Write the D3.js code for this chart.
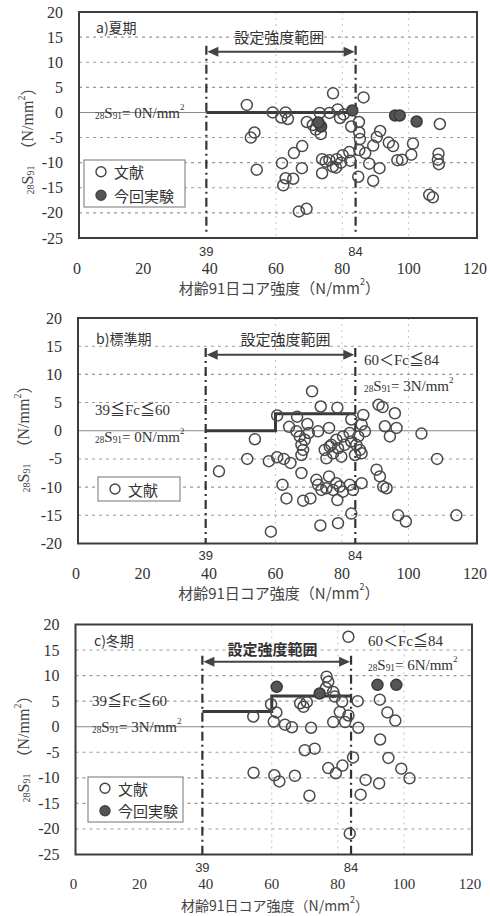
<!DOCTYPE html>
<html><head><meta charset="utf-8">
<script src="https://cdn.jsdelivr.net/npm/d3@7"></script>
<style>body{margin:0;background:#fff}</style>
</head><body><svg id="c" width="490" height="916"></svg>
<script>
// ---------- data ----------
const xTicks=[0,20,40,60,80,100,120];
const yTicksAC=[20,15,10,5,0,-5,-10,-15,-20,-25];
const yTicksB=[20,15,10,5,0,-5,-10,-15,-20];
const fcRange=[39,84];
const fcBreak=60;
const panelTitles=["a)夏期","b)標準期","c)冬期"];
const legendLabels=["文献","今回実験"];
const rangeLabel="設定強度範囲";
const targetSummer=[0,0];
const targetStandard=[0,3];
const targetWinter=[3,6];
const summerLit=[[51.2,1.5],[53.5,-4.0],[52.4,-5.0],[54.2,-11.4],[59.0,0.0],[62.9,0.0],[61.6,-1.0],[63.6,-1.3],[69.3,-1.9],[71.1,-2.5],[72.0,-3.4],[73.5,-4.3],[73.2,-0.1],[77.2,3.8],[78.6,0.6],[76.1,-0.1],[79.3,-1.1],[80.4,-0.4],[86.4,3.0],[85.0,-1.9],[82.7,-2.8],[67.9,-6.7],[65.4,-8.1],[61.8,-10.1],[62.9,-13.1],[62.2,-14.5],[65.2,-13.2],[67.8,-11.1],[66.9,-19.7],[69.2,-19.2],[73.9,-9.3],[73.9,-12.1],[75.0,-9.8],[76.1,-9.5],[77.1,-10.8],[78.3,-9.3],[79.6,-10.0],[80.1,-8.5],[82.1,-7.9],[82.4,-9.6],[78.1,-11.0],[84.8,-12.8],[85.1,-7.5],[85.3,-5.3],[85.1,-4.0],[86.9,-8.1],[88.1,-10.2],[89.3,-6.6],[89.3,-13.6],[91.4,-3.7],[90.4,-4.9],[91.2,-11.1],[94.0,-6.0],[95.3,-6.7],[96.6,-9.5],[98.0,-9.4],[101.3,-6.2],[100.8,-8.4],[109.4,-2.3],[109.0,-8.2],[108.8,-9.4],[109.1,-10.3],[106.2,-16.4],[107.3,-16.9]];
const summerExp=[[73.6,-2.8],[72.8,-2.0],[83.0,0.4],[95.9,-0.6],[97.3,-0.6],[102.4,-1.8]];
const standardLit=[[43.0,-7.2],[53.8,-1.5],[51.5,-5.0],[58.0,-5.4],[60.5,-4.7],[62.5,-5.0],[64.5,-5.7],[60.5,2.7],[64.1,0.7],[66.5,2.5],[69.6,1.2],[66.3,-0.1],[67.3,-1.0],[68.8,-1.6],[67.8,-2.5],[68.3,-3.4],[67.8,-4.3],[70.0,-0.4],[72.8,-0.1],[71.0,7.0],[73.6,4.3],[76.1,0.5],[78.6,4.1],[67.8,-7.5],[62.1,-9.6],[63.3,-12.0],[68.3,-12.4],[70.5,-12.0],[72.3,-8.7],[72.8,-9.6],[73.8,-10.5],[75.3,-10.2],[76.1,-8.1],[78.3,-9.3],[77.3,-10.5],[78.6,-12.3],[58.6,-17.9],[73.5,-16.8],[78.8,-16.4],[74.8,-3.4],[76.3,-2.8],[77.3,-4.0],[75.3,-4.9],[91.0,4.6],[92.2,4.2],[95.9,3.1],[92.9,0.8],[96.4,0.5],[94.4,-1.0],[103.9,-0.5],[108.6,-5.0],[82.8,2.0],[86.4,2.8],[85.9,1.1],[86.9,-0.1],[84.9,-1.0],[82.3,-0.4],[80.3,-1.0],[78.3,-1.6],[76.8,-2.5],[78.8,-3.1],[80.8,-2.5],[82.8,-1.9],[84.3,-2.5],[85.4,-3.4],[85.9,-4.0],[83.9,-4.3],[79.8,-4.6],[90.4,-6.9],[91.4,-8.1],[92.4,-9.9],[93.4,-10.2],[79.3,-9.9],[82.3,-9.6],[83.3,-10.5],[85.9,-9.3],[82.8,-14.7],[96.9,-15.0],[99.2,-16.1],[114.4,-15.0],[80.3,-10.8]];
const winterLit=[[54.4,2.0],[59.8,4.4],[60.6,1.0],[61.4,2.8],[64.0,0.4],[66.1,-0.1],[71.9,-0.2],[68.6,4.6],[69.6,3.9],[70.6,4.8],[54.5,-9.0],[60.8,-9.5],[62.3,-10.7],[67.0,-9.6],[70.0,-4.6],[73.0,-4.3],[71.4,-13.5],[76.6,9.8],[77.1,8.8],[76.4,7.6],[78.6,6.8],[79.1,5.9],[81.3,4.9],[80.6,2.9],[83.2,2.2],[78.6,0.9],[82.2,0.9],[86.0,5.0],[86.2,-0.2],[83.2,17.6],[77.1,-8.1],[79.4,-9.1],[81.4,-7.6],[84.6,-6.0],[88.4,-10.4],[86.9,-13.3],[83.6,-20.9],[92.5,-11.1],[92.7,5.3],[95.0,2.8],[97.4,1.2],[92.8,-2.5],[95.3,-6.1],[99.2,-8.2],[101.7,-10.1]];
const winterExp=[[61.5,7.8],[74.5,6.5],[92.0,8.2],[97.7,8.2]];

// ---------- drawing ----------
const svg=d3.select('#c');
const SERIF='"Liberation Serif","Noto Sans CJK JP",serif';
const CJK='"Noto Sans CJK JP","Noto Sans",sans-serif';
const SANS='"Liberation Sans",Arial,sans-serif';

function sLabel(sel,val,size){ // 28S91= xN/mm2
  sel.append('tspan').attr('font-size',size*0.62).attr('dy',size*0.22).text('28');
  sel.append('tspan').attr('font-size',size).attr('dy',-size*0.22).text('S');
  sel.append('tspan').attr('font-size',size*0.62).attr('dy',size*0.22).text('91');
  sel.append('tspan').attr('font-size',size).attr('dy',-size*0.22).text('= '+val+'N/mm');
  sel.append('tspan').attr('font-size',size*0.6).attr('dy',-size*0.4).text('2');
}

function drawPanel(o){
  const x=d3.scaleLinear().domain([0,120]).range([o.x0,o.x1]);
  const y=d3.scaleLinear().domain(o.yDom).range([o.yB,o.yT]);
  const g=svg.append('g');
  const fl=x(0)+2, fr=x(120)+2;
  // grid
  g.selectAll('.hg').data(o.yTicks.filter(v=>v!==0&&v>o.yDom[0]&&v<o.yDom[1])).join('line')
    .attr('x1',fl).attr('x2',fr).attr('y1',d=>y(d)).attr('y2',d=>y(d))
    .attr('stroke','#9a9a9a').attr('stroke-width',1.1).attr('stroke-dasharray','3,4');
  g.selectAll('.vg').data([60,80,100]).join('line')
    .attr('x1',d=>x(d)).attr('x2',d=>x(d)).attr('y1',y(o.yDom[1])).attr('y2',y(o.yDom[0]))
    .attr('stroke','#c4c4c4').attr('stroke-width',1).attr('stroke-dasharray','2,4');
  g.append('line').attr('x1',fl).attr('x2',fr).attr('y1',y(0)).attr('y2',y(0))
    .attr('stroke','#8a8a8a').attr('stroke-width',1.1);
  // frame
  g.append('rect').attr('x',fl).attr('y',y(o.yDom[1])).attr('width',fr-fl).attr('height',y(o.yDom[0])-y(o.yDom[1]))
    .attr('fill','none').attr('stroke','#3c3c3c').attr('stroke-width',2);
  // y tick labels
  g.selectAll('.yt').data(o.yTicks).join('text')
    .attr('x',fl-16).attr('y',d=>y(d)).attr('text-anchor','end').attr('dominant-baseline','central')
    .attr('font-family',SERIF).attr('font-size',16).attr('fill','#333').text(d=>d);
  // x tick labels
  g.selectAll('.xt').data(xTicks).join('text')
    .attr('x',d=>x(d)).attr('y',o.tickY).attr('text-anchor','middle').attr('dominant-baseline','central')
    .attr('font-family',SERIF).attr('font-size',o.tickSize||16).attr('fill','#333').text(d=>d);
  g.selectAll('.fc').data(fcRange).join('text')
    .attr('x',d=>x(d)).attr('y',o.fcY).attr('text-anchor','middle').attr('dominant-baseline','central')
    .attr('font-family',SANS).attr('font-size',13).attr('fill','#333').text(d=>d);
  // x title
  const xt=g.append('text').attr('x',x(61)).attr('y',o.titleY).attr('text-anchor','middle').attr('dominant-baseline','central')
    .attr('font-family',CJK).attr('font-size',o.titleSize||15).attr('fill','#444');
  xt.append('tspan').text('材齢91日コア強度（N/mm');
  xt.append('tspan').attr('font-size',9).attr('dy',-6).text('2');
  xt.append('tspan').attr('dy',6).text('）');
  // y title
  const yt=g.append('text').attr('transform',`translate(${o.ytX},${o.ytY}) rotate(-90)`)
    .attr('text-anchor','middle').attr('dominant-baseline','central').attr('font-family',SERIF).attr('fill','#444').attr('font-size',16);
  yt.append('tspan').attr('font-size',10).attr('dy',3).text('28');
  yt.append('tspan').attr('font-size',16).attr('dy',-3).text('S');
  yt.append('tspan').attr('font-size',10).attr('dy',3).text('91');
  yt.append('tspan').attr('font-size',16).attr('dy',-3).attr('font-family',CJK).text('　（');
  yt.append('tspan').attr('font-size',16).text('N/mm');
  yt.append('tspan').attr('font-size',10).attr('dy',-6).text('2');
  yt.append('tspan').attr('font-size',16).attr('dy',6).attr('font-family',CJK).text('）');
  // dash-dot range lines
  g.selectAll('.dd').data(fcRange).join('line')
    .attr('x1',d=>x(d)).attr('x2',d=>x(d)).attr('y1',y(o.arrowY+1.2)).attr('y2',y(o.ddEnd))
    .attr('stroke','#333').attr('stroke-width',2.2).attr('stroke-dasharray','9,4,2,4');
  // arrow
  const ay=y(o.arrowY), ax0=x(fcRange[0])+1, ax1=x(fcRange[1])-1;
  g.append('line').attr('x1',ax0+8).attr('x2',ax1-8).attr('y1',ay).attr('y2',ay).attr('stroke','#444').attr('stroke-width',2);
  g.append('path').attr('d',`M${ax0},${ay}L${ax0+11},${ay-5}L${ax0+11},${ay+5}Z`).attr('fill','#444');
  g.append('path').attr('d',`M${ax1},${ay}L${ax1-11},${ay-5}L${ax1-11},${ay+5}Z`).attr('fill','#444');
  g.append('text').attr('x',x(o.rangeTextX)).attr('y',y(o.rangeTextY)).attr('text-anchor','middle').attr('dominant-baseline','central')
    .attr('font-family',CJK).attr('font-size',15).attr('fill','#333').attr('font-weight',o.boldRange?'bold':'normal').text(rangeLabel);
  // target step line
  const step=[[fcRange[0],o.target[0]],[fcBreak,o.target[1]],[fcRange[1],o.target[1]]];
  g.append('path').datum(step).attr('d',d3.line().x(d=>x(d[0])).y(d=>y(d[1])).curve(d3.curveStepAfter))
    .attr('fill','none').attr('stroke','#3a3a3a').attr('stroke-width',3);
  // points
  g.selectAll('.lit').data(o.lit).join('circle').attr('cx',d=>x(d[0])).attr('cy',d=>y(d[1])).attr('r',5.5)
    .attr('fill','none').attr('stroke','#4a4a4a').attr('stroke-width',1.5);
  g.selectAll('.exp').data(o.exp).join('circle').attr('cx',d=>x(d[0])).attr('cy',d=>y(d[1])).attr('r',5.5)
    .attr('fill','#555').attr('stroke','#3a3a3a').attr('stroke-width',1.5);
  // panel title
  g.append('text').attr('x',o.ttlX).attr('y',o.ttlY).attr('dominant-baseline','central')
    .attr('font-family',CJK).attr('font-size',14).attr('fill','#333').text(o.title);
  // legend
  const L=o.legend;
  g.append('rect').attr('x',L.x).attr('y',L.y).attr('width',L.w).attr('height',L.h)
    .attr('fill','#fff').attr('stroke','#8a8a8a').attr('stroke-width',1.2);
  const items=o.exp.length?legendLabels:legendLabels.slice(0,1);
  items.forEach((lab,i)=>{
    const cy=L.y+L.h/(items.length*2)*(2*i+1);
    g.append('circle').attr('cx',L.x+17).attr('cy',cy).attr('r',5)
      .attr('fill',i?'#555':'none').attr('stroke','#444').attr('stroke-width',1.4);
    g.append('text').attr('x',L.x+30).attr('y',cy).attr('dominant-baseline','central')
      .attr('font-family',CJK).attr('font-size',15).attr('fill','#333').text(lab);
  });
  // annotations
  o.notes.forEach(n=>{
    const t=g.append('text').attr('x',n.x).attr('y',n.y).attr('dominant-baseline','central')
      .attr('font-family',SERIF).attr('fill','#333').attr('font-size',15);
    if(n.fc) t.text(n.fc); else sLabel(t,n.s,15);
  });
}

drawPanel({x0:77,x1:475,yT:12,yB:238,yDom:[-25,20],yTicks:yTicksAC,tickY:268,fcY:251,titleY:287,
  ytX:27,ytY:137,arrowY:12.1,ddEnd:-23.8,rangeTextX:61,rangeTextY:15.1,target:targetSummer,
  lit:summerLit,exp:summerExp,title:panelTitles[0],ttlX:96,ttlY:27,
  legend:{x:84,y:160,w:101,h:47},
  notes:[{x:95,y:113,s:'0'}]});
drawPanel({x0:76,x1:475,yT:318,yB:543.5,yDom:[-20,20],yTicks:yTicksB,tickY:573,fcY:555,titleY:592,
  ytX:23,ytY:435,arrowY:13.5,ddEnd:-20,rangeTextX:63,rangeTextY:16.3,target:targetStandard,
  lit:standardLit,exp:[],title:panelTitles[1],ttlX:96,ttlY:338,
  legend:{x:98,y:477,w:82,h:24},
  notes:[{x:95,y:410,fc:'39≦Fc≦60'},{x:95,y:437,s:'0'},{x:364,y:360,fc:'60＜Fc≦84'},{x:364,y:386,s:'3'}]});
drawPanel({x0:73.5,x1:470,yT:624.5,yB:854.5,yDom:[-25,20],yTicks:yTicksAC,tickY:884,tickSize:15,fcY:867,titleY:905,titleSize:14,
  ytX:23,ytY:745,arrowY:12.7,ddEnd:-25,rangeTextX:60.2,rangeTextY:15.3,target:targetWinter,boldRange:true,
  lit:winterLit,exp:winterExp,title:panelTitles[2],ttlX:94,ttlY:640,
  legend:{x:88,y:777,w:95,h:45},
  notes:[{x:92,y:701,fc:'39≦Fc≦60'},{x:92,y:727,s:'3'},{x:368,y:641,fc:'60＜Fc≦84'},{x:368,y:665,s:'6'}]});
</script></body></html>
